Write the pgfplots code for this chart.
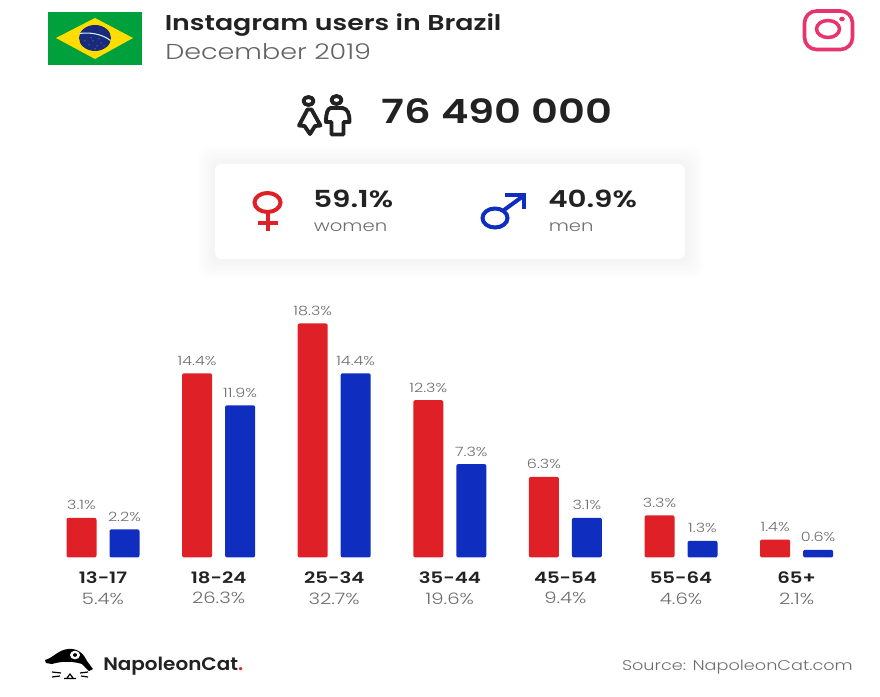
\documentclass[border=0pt]{standalone}
\usepackage{fontspec}
\setmainfont[FakeStretch=1.10,BoldFont={Poppins SemiBold},BoldFeatures={FakeStretch=1.10}]{Poppins Light}
\newfontfamily\wide[FakeStretch=1.25,BoldFont={Poppins SemiBold},BoldFeatures={FakeStretch=1.25}]{Poppins Light}
\usepackage{pgfplots}
\pgfplotsset{compat=1.18}
\definecolor{barred}{HTML}{E02027}
\definecolor{barblue}{HTML}{0F2EBF}
\definecolor{ink}{HTML}{222222}
\definecolor{soft}{HTML}{6E6E6E}
\definecolor{insta}{HTML}{E8336D}
\newcommand{\fs}[1]{\fontsize{#1}{#1}\selectfont}
\begin{document}
\begin{tikzpicture}
% page frame, drawing units are 1/880 of the page width, y running down
\begin{scope}[x=0.75pt,y=-0.75pt,yshift=522pt]
  \fill[white] (0,0) rectangle (880,696);
  % flag
  \fill[fill={rgb,255:red,0;green,161;blue,60}] (48,12) rectangle (142,65);
  \fill[fill={rgb,255:red,255;green,221;blue,0}] (56,38) -- (95,18) -- (133,38) -- (95,59) -- cycle;
  \fill[fill={rgb,255:red,26;green,42;blue,122}] (95,38) ellipse [x radius=16,y radius=13];
  \draw[white!80!cyan,line width=0.8pt] (79.5,33.5) .. controls (90,32) and (102,34) .. (110.5,40.5);
  \foreach \sx/\sy in {85/41,89/45,93/41,97/46,101/43,104/46,91/38,99/39,95/49}
    \fill[white!70!blue] (\sx,\sy) circle [radius=0.5];
  % instagram glyph
  \draw[insta,line width=2.7pt,rounded corners=9pt] (804.5,11) rectangle (852.5,49.5);
  \draw[insta,line width=2.6pt] (828,29) ellipse [x radius=11.5,y radius=8.5];
  \fill[insta] (842,19) ellipse [x radius=2.8,y radius=2.3];
  % people glyph
  \begin{scope}[ink,line width=2.9pt,line join=round]
    \draw (308.5,101) ellipse [x radius=5,y radius=4];
    \draw (307.5,109.5) -- (311.5,109.5) -- (320.5,125.5) -- (315,126) -- (310,134) -- (304.5,126) -- (299,125.5) -- cycle;
    \draw (336.5,100) ellipse [x radius=5,y radius=4];
    \draw (330.5,108) -- (342.5,108) .. controls (347.5,109) and (349.5,113) .. (349.5,122) -- (343.5,122) -- (343.5,134.5) -- (331.5,134.5) -- (331.5,122) -- (326,122) .. controls (326,113) and (327.5,109) .. (330.5,108) -- cycle;
  \end{scope}
  % summary card with a soft edge, darker rings painted towards the middle
  \foreach \g in {18,17,...,1} {
    \pgfmathsetmacro{\shade}{(19-\g)*0.24}
    \fill[black!\shade!white,rounded corners=7pt] (215-\g,164-\g+1) rectangle (685+\g,259+\g+1);
  }
  \fill[white,rounded corners=5pt] (215,164) rectangle (685,259);
  % female sign
  \draw[barred,line width=3pt] (267.5,202.5) ellipse [x radius=13,y radius=9.5];
  \draw[barred,line width=3pt] (267.5,212) -- (267.5,231);
  \draw[barred,line width=3pt] (257.5,223) -- (278,223);
  % male sign
  \draw[barblue,line width=3pt] (495,218) ellipse [x radius=12.5,y radius=9.5];
  \draw[barblue,line width=3pt] (504,210) -- (524,195.5);
  \draw[barblue,line width=3pt,line join=miter] (505,195.5) -- (524,195.5) -- (524,209);
  % headings
  \node[anchor=base west,inner sep=0,text=ink] at (164.5,31) {\wide\fs{16.1}\bfseries Instagram users in Brazil};
  \node[anchor=base west,inner sep=0,text=soft!90!black] at (165,60) {\wide\fs{16.2}December 2019};
  \node[anchor=base west,inner sep=0,text=ink] at (381.5,124) {\wide\fs{25}\bfseries 76 490 000};
  \node[anchor=base west,inner sep=0,text=ink] at (313,208) {\wide\fs{17.6}\bfseries 59.1\%};
  \node[anchor=base west,inner sep=0,text=soft] at (313.5,232) {\wide\fs{11.8}women};
  \node[anchor=base west,inner sep=0,text=ink] at (548,208) {\wide\fs{17.6}\bfseries 40.9\%};
  \node[anchor=base west,inner sep=0,text=soft] at (548.5,232) {\wide\fs{11.8}men};
  % footer logo
  \fill[black] (45,660) .. controls (53,658) and (58,650) .. (68,649) .. controls (78,648) and (84,654) .. (87,661) -- (93,669) -- (89,671) -- (82,664) .. controls (72,661) and (62,661) .. (52,664) -- (46,663) -- cycle;
  \fill[white] (75,655) ellipse [x radius=5,y radius=4.3];
  \fill[black] (75,655) ellipse [x radius=2,y radius=1.8];
  \draw[black,line width=0.9pt] (52,672) -- (61,673) (52,677) -- (60,676) (80,673) -- (88,672) (81,676) -- (88,677) (67,678) -- (70,674) -- (73,678) (64,678.5) -- (76,678.5);
  \node[anchor=base west,inner sep=0,text=ink] at (103,670) {\fs{13.6}\bfseries NapoleonCat\textcolor{barred}{.}};
  \node[anchor=base east,inner sep=0,text=soft] at (853,670) {\wide\fs{10.6}Source: NapoleonCat.com};
\end{scope}
% age and gender bars, one group per age band
\begin{axis}[
  at={(33.9pt,103.9pt)},
  anchor=south west,
  x=86.7pt, y=9.592pt,
  xmin=-0.5, xmax=6.5, ymin=0, ymax=20,
  clip=false,
  axis x line=bottom,
  axis y line=none,
  axis line style={draw=none},
  major tick length=0pt,
  ybar=9.75pt,
  bar width=22.5pt,
  xtick={0,1,2,3,4,5,6},
  xticklabels={
    {\textbf{13-17}\\[3.6pt]{\color{soft}5.4\%}},
    {\textbf{18-24}\\[3.6pt]{\color{soft}26.3\%}},
    {\textbf{25-34}\\[3.6pt]{\color{soft}32.7\%}},
    {\textbf{35-44}\\[3.6pt]{\color{soft}19.6\%}},
    {\textbf{45-54}\\[3.6pt]{\color{soft}9.4\%}},
    {\textbf{55-64}\\[3.6pt]{\color{soft}4.6\%}},
    {\textbf{65+}\\[3.6pt]{\color{soft}2.1\%}}},
  xticklabel style={align=center,text=ink,font=\wide\fs{11.8},inner sep=0pt,anchor=north,yshift=-10.5pt},
  nodes near coords={\pgfmathprintnumber[fixed,fixed zerofill,precision=1,assume math mode=true]{\pgfplotspointmeta}\%},
  every node near coord/.append style={font=\wide\fs{9.6},text=soft,inner sep=0pt,yshift=5.7pt},
]
\addplot[ybar,draw=none,fill=barred,rounded corners=1.5pt] coordinates {
  (0,3.1) (1,14.4) (2,18.3) (3,12.3) (4,6.3) (5,3.3) (6,1.4)};
\addplot[ybar,draw=none,fill=barblue,rounded corners=1.5pt] coordinates {
  (0,2.2) (1,11.9) (2,14.4) (3,7.3) (4,3.1) (5,1.3) (6,0.6)};
\end{axis}
\end{tikzpicture}
\end{document}
